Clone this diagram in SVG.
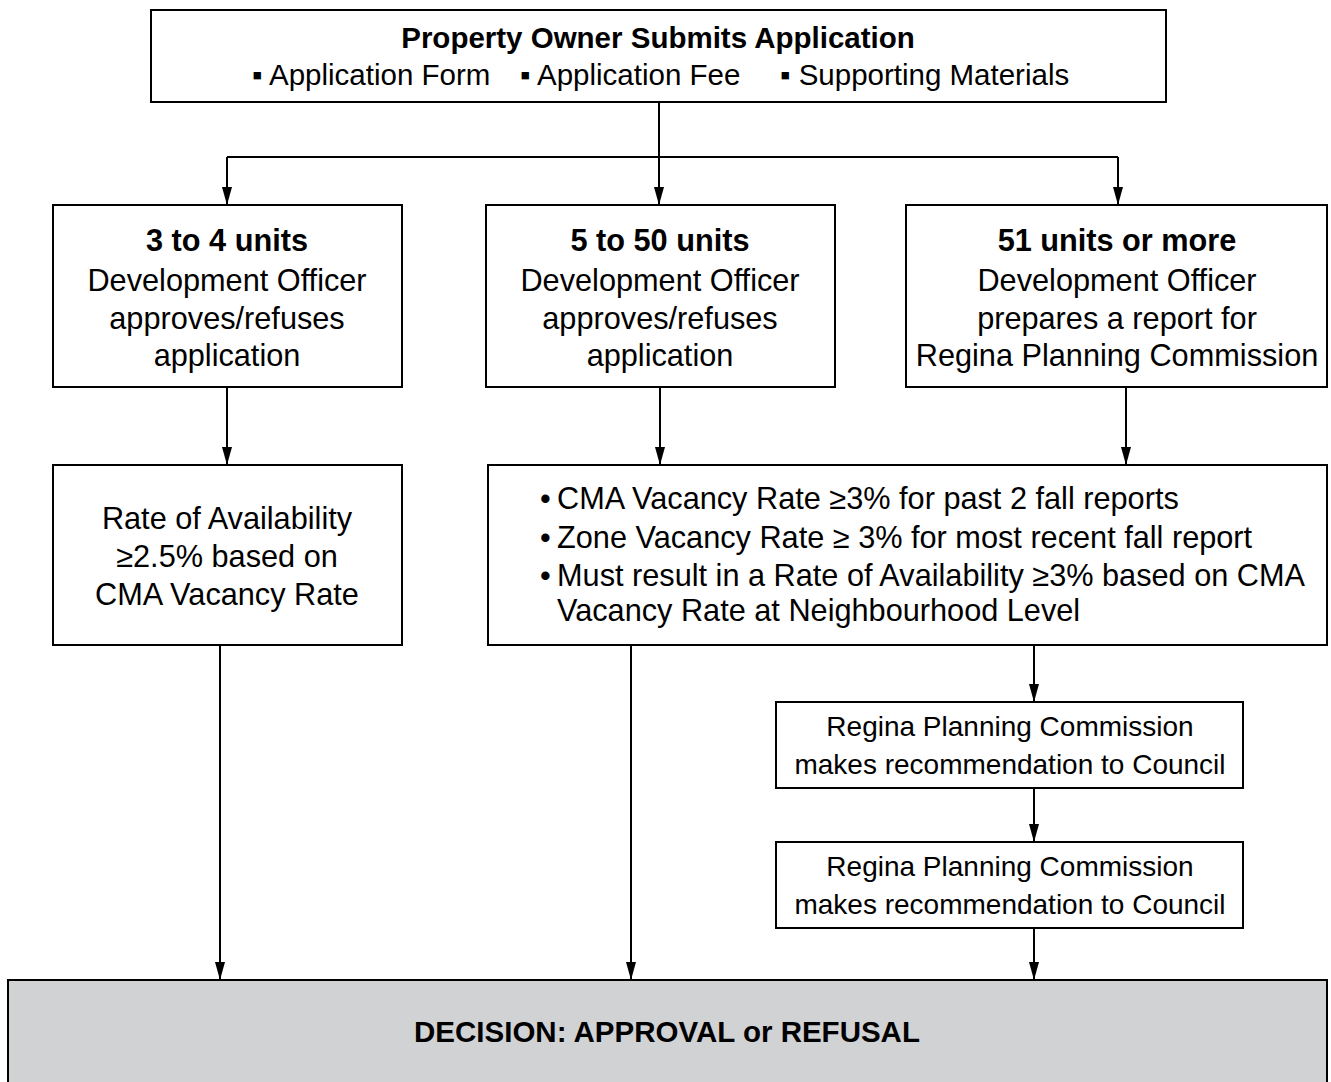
<svg xmlns="http://www.w3.org/2000/svg" width="1331" height="1082" viewBox="0 0 1331 1082">
<style>
.box{fill:#fff;stroke:#000;stroke-width:2}
.dec{fill:#d1d2d4;stroke:#000;stroke-width:2}
.t{font-family:"Liberation Sans",Arial,sans-serif;font-size:30.7px;fill:#000}
.s{font-size:29.5px}
.r{font-size:28px}
.c{text-anchor:middle}
.b{font-weight:bold}
.ln{fill:none;stroke:#000;stroke-width:2}
</style>
<defs>
<marker id="ah" viewBox="0 0 18 10" refX="18" refY="5" markerWidth="18" markerHeight="10" markerUnits="userSpaceOnUse" orient="auto">
<path d="M0,0 L18,5 L0,10 z" fill="#000"/>
</marker>
</defs>
<g id="connectors">
<path class="ln" d="M659,102 V157"/>
<path class="ln" d="M227,157 H1118"/>
<path class="ln" d="M227,157 V205" marker-end="url(#ah)"/>
<path class="ln" d="M659,157 V205" marker-end="url(#ah)"/>
<path class="ln" d="M1118,157 V205" marker-end="url(#ah)"/>
<path class="ln" d="M227,387 V465" marker-end="url(#ah)"/>
<path class="ln" d="M660,387 V465" marker-end="url(#ah)"/>
<path class="ln" d="M1126,387 V465" marker-end="url(#ah)"/>
<path class="ln" d="M220,645 V980" marker-end="url(#ah)"/>
<path class="ln" d="M631,645 V980" marker-end="url(#ah)"/>
<path class="ln" d="M1034,645 V702" marker-end="url(#ah)"/>
<path class="ln" d="M1034,788 V842" marker-end="url(#ah)"/>
<path class="ln" d="M1034,928 V980" marker-end="url(#ah)"/>
</g>
<g id="n-submit">
<rect class="box" x="151" y="10" width="1015" height="92"/>
<text class="t s c b" x="658" y="48">Property Owner Submits Application</text>
<text class="t s" x="252" y="85">▪ Application Form</text>
<text class="t s" x="520" y="85">▪ Application Fee</text>
<text class="t s" x="780" y="85">▪ Supporting Materials</text>
</g>
<g id="n-3to4">
<rect class="box" x="53" y="205" width="349" height="182"/>
<text class="t c b" x="227" y="251">3 to 4 units</text>
<text class="t c" x="227" y="291">Development Officer</text>
<text class="t c" x="227" y="329">approves/refuses</text>
<text class="t c" x="227" y="366">application</text>
</g>
<g id="n-5to50">
<rect class="box" x="486" y="205" width="349" height="182"/>
<text class="t c b" x="660" y="251">5 to 50 units</text>
<text class="t c" x="660" y="291">Development Officer</text>
<text class="t c" x="660" y="329">approves/refuses</text>
<text class="t c" x="660" y="366">application</text>
</g>
<g id="n-51">
<rect class="box" x="906" y="205" width="421" height="182"/>
<text class="t c b" x="1117" y="251">51 units or more</text>
<text class="t c" x="1117" y="291">Development Officer</text>
<text class="t c" x="1117" y="329">prepares a report for</text>
<text class="t c" x="1117" y="366">Regina Planning Commission</text>
</g>
<g id="n-rate">
<rect class="box" x="53" y="465" width="349" height="180"/>
<text class="t c" x="227" y="529">Rate of Availability</text>
<text class="t c" x="227" y="567">≥2.5% based on</text>
<text class="t c" x="227" y="605">CMA Vacancy Rate</text>
</g>
<g id="n-criteria">
<rect class="box" x="488" y="465" width="839" height="180"/>
<text class="t" x="540" y="509">•</text><text class="t" x="557" y="509">CMA Vacancy Rate ≥3% for past 2 fall reports</text>
<text class="t" x="540" y="548">•</text><text class="t" x="557" y="548">Zone Vacancy Rate ≥ 3% for most recent fall report</text>
<text class="t" x="540" y="586">•</text><text class="t" x="557" y="586">Must result in a Rate of Availability ≥3% based on CMA</text>
<text class="t" x="557" y="621">Vacancy Rate at Neighbourhood Level</text>
</g>
<g id="n-rpc1">
<rect class="box" x="776" y="702" width="467" height="86"/>
<text class="t r c" x="1010" y="736">Regina Planning Commission</text>
<text class="t r c" x="1010" y="774">makes recommendation to Council</text>
</g>
<g id="n-rpc2">
<rect class="box" x="776" y="842" width="467" height="86"/>
<text class="t r c" x="1010" y="876">Regina Planning Commission</text>
<text class="t r c" x="1010" y="914">makes recommendation to Council</text>
</g>
<g id="n-decision">
<rect class="dec" x="8" y="980" width="1319" height="110"/>
<text class="t s c b" x="667" y="1042">DECISION: APPROVAL or REFUSAL</text>
</g>
</svg>
